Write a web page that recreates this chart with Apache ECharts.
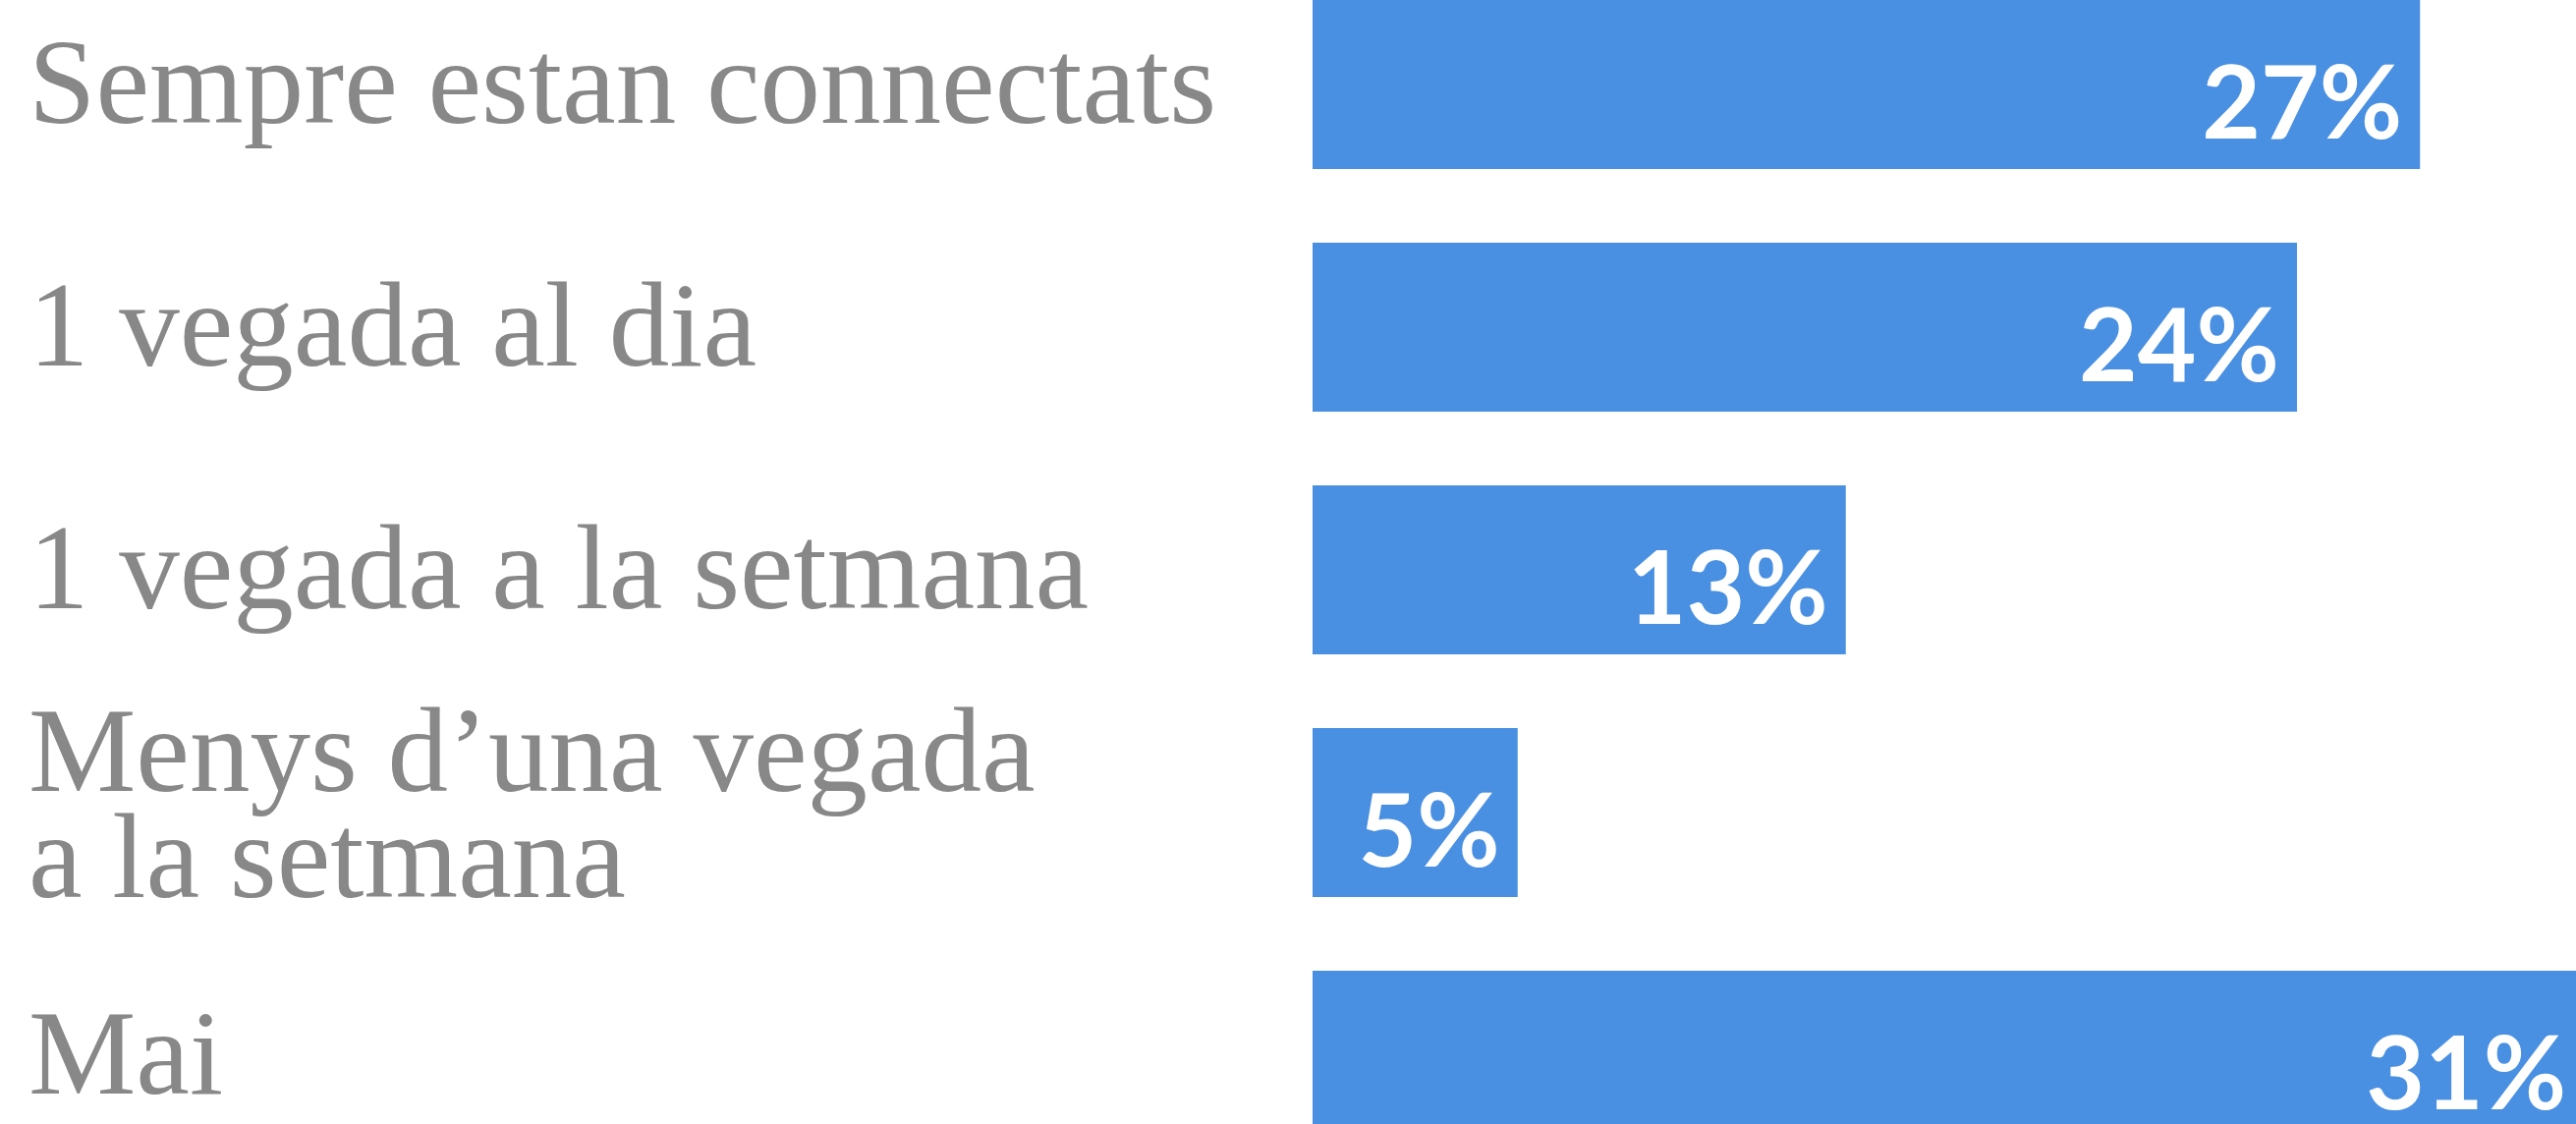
<!DOCTYPE html>
<html>
<head>
<meta charset="utf-8">
<style>
html,body{margin:0;padding:0;background:#fff;}
#chart{width:2622px;height:1144px;}
</style>
<script src="https://cdn.jsdelivr.net/npm/echarts@6/dist/echarts.min.js"></script>
</head>
<body>
<div id="chart"></div>
<script>
const categories = [
  "Sempre estan connectats",
  "1 vegada al dia",
  "1 vegada a la setmana",
  "Menys d’una vegada\na la setmana",
  "Mai"
];
const values = [27, 24, 13, 5, 31];

const chart = echarts.init(document.getElementById('chart'), null, {renderer: 'canvas'});
chart.setOption({
  animation: false,
  backgroundColor: '#ffffff',
  grid: {left: 1336, top: -37.5, width: 1670, height: 1235, containLabel: false, outerBoundsMode: 'none'},
  xAxis: {
    type: 'value', min: 0, max: 40,
    show: false
  },
  yAxis: {
    type: 'category',
    data: categories,
    inverse: true,
    axisLine: {show: false},
    axisTick: {show: false},
    splitLine: {show: false},
    axisLabel: {
      align: 'left',
      margin: 1307,
      formatter: v => v.indexOf('\n') >= 0 ? '{m|' + v.split('\n').join('}\n{m|') + '}' : '{s|' + v + '}',
      rich: {
        s: {
          color: '#888888',
          fontFamily: 'Liberation Serif',
          fontSize: 123,
          lineHeight: 108,
          padding: [14, 0, 0, 0]
        },
        m: {
          color: '#888888',
          fontFamily: 'Liberation Serif',
          fontSize: 123,
          lineHeight: 108
        }
      }
    }
  },
  series: [{
    type: 'bar',
    data: values,
    barWidth: 172,
    itemStyle: {color: '#4A90E2'},
    label: {
      show: true,
      position: 'insideRight',
      offset: [-13, 22],
      formatter: '{c}%',
      color: '#ffffff',
      fontFamily: 'Lato',
      fontWeight: 'bold',
      fontSize: 103
    }
  }]
});
</script>
</body>
</html>
